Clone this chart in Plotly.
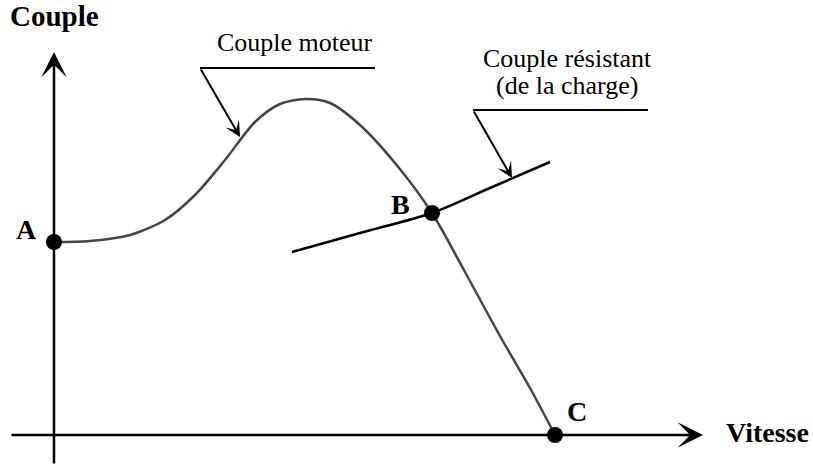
import plotly.graph_objects as go

# Motor torque curve (speed, torque), arbitrary units
motor_speed = [0, 36, 76, 111, 141, 171, 201, 226, 251, 276, 306, 341, 378, 411, 446, 476, 501]
motor_torque = [193, 194, 200, 215, 240, 275, 313, 331, 336, 332, 310, 272, 222, 163, 99, 47, 0]

# Load (resistant) torque curve
load_speed = [238, 306, 378, 436, 496]
load_torque = [183, 202, 222, 247, 273]

# Key points
pt_names = ["A", "B", "C"]
pt_speed = [0, 378, 501]
pt_torque = [193, 222, 0]
pt_label_dx = [-28, -32, 22]
pt_label_dy = [13, 9, 24]

SERIF = "Liberation Serif, Times New Roman, serif"

fig = go.Figure()

fig.add_trace(go.Scatter(x=motor_speed, y=motor_torque, mode="lines",
                         line=dict(color="#454545", width=2.5, shape="spline", smoothing=0.8),
                         hoverinfo="skip", showlegend=False))
fig.add_trace(go.Scatter(x=load_speed, y=load_torque, mode="lines",
                         line=dict(color="#000000", width=2.5, shape="spline", smoothing=0.8),
                         hoverinfo="skip", showlegend=False))
fig.add_trace(go.Scatter(x=pt_speed, y=pt_torque, mode="markers",
                         marker=dict(color="#000000", size=16),
                         hoverinfo="skip", showlegend=False))

ann = []
# Axes with arrows
ann.append(dict(x=0, y=383, ax=0, ay=-30, xref="x", yref="y", axref="x", ayref="y",
                text="", showarrow=True, arrowhead=3, arrowsize=1.7, arrowwidth=2.5, arrowcolor="#000"))
ann.append(dict(x=649, y=0, ax=-44, ay=0, xref="x", yref="y", axref="x", ayref="y",
                text="", showarrow=True, arrowhead=3, arrowsize=1.7, arrowwidth=2.5, arrowcolor="#000"))
# Leader arrows
ann.append(dict(x=186, y=298, ax=146, ay=367, xref="x", yref="y", axref="x", ayref="y",
                text="", showarrow=True, arrowhead=3, arrowsize=1.3, arrowwidth=2, arrowcolor="#000"))
ann.append(dict(x=458, y=257, ax=419, ay=325, xref="x", yref="y", axref="x", ayref="y",
                text="", showarrow=True, arrowhead=3, arrowsize=1.3, arrowwidth=2, arrowcolor="#000"))

# Axis titles
ann.append(dict(x=0, y=419, xref="x", yref="y", text="<b>Couple</b>", showarrow=False,
                font=dict(family=SERIF, size=29, color="#000")))
ann.append(dict(x=670, y=3, xref="x", yref="y", text="<b>Vitesse</b>", showarrow=False,
                xanchor="left", font=dict(family=SERIF, size=28, color="#000")))
# Curve labels
ann.append(dict(x=241, y=393, xref="x", yref="y", text="Couple moteur", showarrow=False,
                font=dict(family=SERIF, size=26, color="#000")))
ann.append(dict(x=513, y=377, xref="x", yref="y", text="Couple résistant", showarrow=False,
                font=dict(family=SERIF, size=26, color="#000")))
ann.append(dict(x=513, y=350, xref="x", yref="y", text="(de la charge)", showarrow=False,
                font=dict(family=SERIF, size=26, color="#000")))
# Point labels
for n, sx, ty, dx, dy in zip(pt_names, pt_speed, pt_torque, pt_label_dx, pt_label_dy):
    ann.append(dict(x=sx + dx, y=ty + dy, xref="x", yref="y", text="<b>%s</b>" % n, showarrow=False,
                    font=dict(family=SERIF, size=28, color="#000")))

shapes = [
    dict(type="line", x0=146, y0=367, x1=321, y1=367, xref="x", yref="y", line=dict(color="#000", width=2)),
    dict(type="line", x0=419, y0=325, x1=594, y1=325, xref="x", yref="y", line=dict(color="#000", width=2)),
]

fig.update_layout(
    width=813, height=468,
    margin=dict(l=0, r=0, t=0, b=0),
    paper_bgcolor="white", plot_bgcolor="white",
    xaxis=dict(range=[-54, 759], visible=False, fixedrange=True),
    yaxis=dict(range=[-33, 435], visible=False, fixedrange=True),
    annotations=ann, shapes=shapes, showlegend=False,
)

fig.write_html("out.html", config={"displayModeBar": False},
               post_script="document.body.style.margin='0';document.body.style.overflow='hidden';")
